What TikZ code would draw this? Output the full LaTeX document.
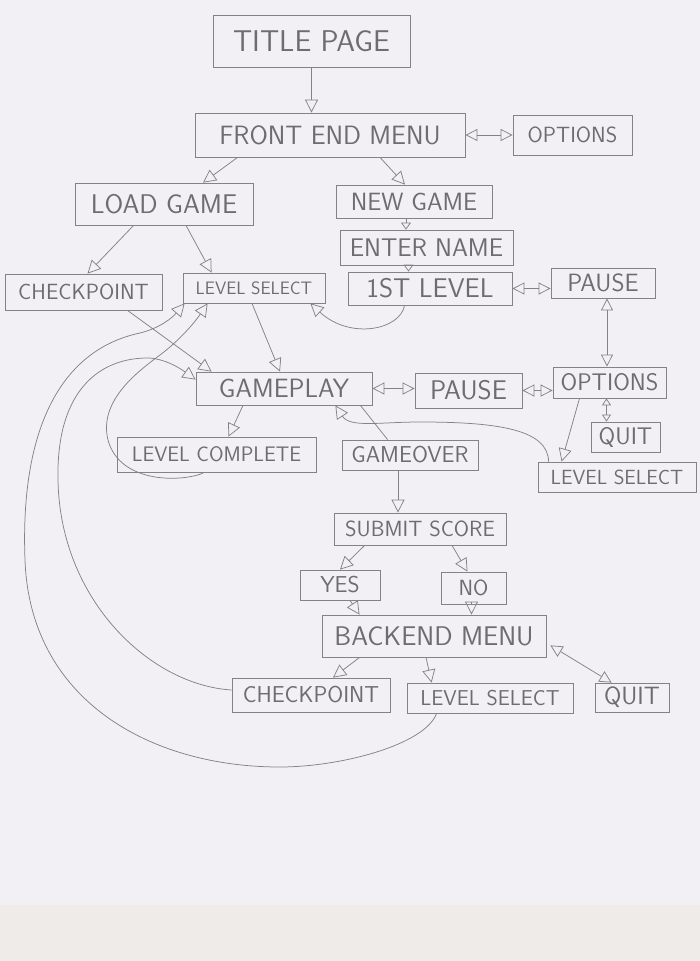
\documentclass[tikz,border=0pt]{standalone}
\usepackage{fontspec}
\usetikzlibrary{arrows.meta,calc}
\definecolor{paper}{RGB}{242,240,244}
\definecolor{scanbot}{RGB}{238,235,233}
\definecolor{linec}{RGB}{130,130,136}
\definecolor{textc}{RGB}{108,108,114}
\newcommand{\fsz}[1]{\sffamily\fontsize{#1}{#1}\selectfont}
\tikzset{
  box/.style={draw=linec, line width=0.8pt, inner sep=0pt, text=textc, fill=none},
  conn/.style={draw=linec, line width=0.75pt},
  tip/.style={-{Triangle[open,length=13pt,width=13pt]}},
  tips/.style={{Triangle[open,length=12pt,width=12pt]}-{Triangle[open,length=12pt,width=12pt]}},
  smalltip/.style={-{Triangle[open,length=7pt,width=10pt]}},
  smalltips/.style={{Triangle[open,length=7pt,width=9pt]}-{Triangle[open,length=7pt,width=9pt]}},
}
\begin{document}
\begin{tikzpicture}[x=1pt,y=-1pt]
\useasboundingbox (0,0) rectangle (700,961);
\fill[paper] (0,0) rectangle (700,905);
\fill[scanbot] (0,905) rectangle (700,961);

% nodes
\node[box,minimum width=197pt,minimum height=52pt,font=\fsz{30}] (title) at (311.5,41) {TITLE PAGE};
\node[box,minimum width=270pt,minimum height=44pt,font=\fsz{26.5}] (fem) at (330,135) {FRONT END MENU};
\node[box,minimum width=119pt,minimum height=40pt,font=\fsz{22}] (opt1) at (572.5,135) {OPTIONS};
\node[box,minimum width=178pt,minimum height=42pt,font=\fsz{27}] (load) at (164,204) {LOAD GAME};
\node[box,minimum width=156pt,minimum height=33pt,font=\fsz{25}] (new) at (414,201.5) {NEW GAME};
\node[box,minimum width=173pt,minimum height=35pt,font=\fsz{25.5}] (enter) at (426.5,247.5) {ENTER NAME};
\node[box,minimum width=164pt,minimum height=33pt,font=\fsz{27}] (first) at (430,288.5) {1ST LEVEL};
\node[box,minimum width=104pt,minimum height=30pt,font=\fsz{25}] (pause1) at (603,283) {PAUSE};
\node[box,minimum width=157pt,minimum height=36pt,font=\fsz{22}] (cp1) at (83.5,292) {CHECKPOINT};
\node[box,minimum width=142pt,minimum height=30pt,font=\fsz{18}] (ls1) at (254,288) {LEVEL SELECT};
\node[box,minimum width=176pt,minimum height=33pt,font=\fsz{26.5}] (game) at (284,388.5) {GAMEPLAY};
\node[box,minimum width=107pt,minimum height=35pt,font=\fsz{27}] (pause2) at (468.5,390.5) {PAUSE};
\node[box,minimum width=113pt,minimum height=31pt,font=\fsz{24}] (opt2) at (609.5,382.5) {OPTIONS};
\node[box,minimum width=69pt,minimum height=30pt,font=\fsz{24}] (quit1) at (625.5,437) {QUIT};
\node[box,minimum width=199pt,minimum height=35pt,font=\fsz{21}] (lc) at (216.5,454.5) {LEVEL COMPLETE};
\node[box,minimum width=136pt,minimum height=30pt,font=\fsz{23}] (over) at (410,455) {GAMEOVER};
\node[box,minimum width=158pt,minimum height=30pt,font=\fsz{20.5}] (ls2) at (617,477) {LEVEL SELECT};
\node[box,minimum width=172pt,minimum height=32pt,font=\fsz{22}] (submit) at (420,529) {SUBMIT SCORE};
\node[box,minimum width=80pt,minimum height=30pt,font=\fsz{23}] (yes) at (340,585) {YES};
\node[box,minimum width=65pt,minimum height=32pt,font=\fsz{22}] (no) at (473.5,588) {NO};
\node[box,minimum width=224pt,minimum height=42pt,font=\fsz{27}] (back) at (434,636) {BACKEND MENU};
\node[box,minimum width=158pt,minimum height=34pt,font=\fsz{23}] (cp2) at (311,695) {CHECKPOINT};
\node[box,minimum width=166pt,minimum height=30pt,font=\fsz{21.5}] (ls3) at (490,698) {LEVEL SELECT};
\node[box,minimum width=74pt,minimum height=29pt,font=\fsz{25}] (quit2) at (632,697.5) {QUIT};

% connectors
\draw[conn,tip] (title.south) -- (title.south |- fem.north);
\draw[conn,tips] (fem.east) -- (opt1.west);
\draw[conn,tip] ($(fem.south west)+(43,0)$) -- ($(load.north)+(39,0)$);
\draw[conn,tip] ($(fem.south)+(50,0)$) -- ($(new.north)+(-9,0)$);
\draw[conn,smalltip] ($(new.south)+(-8,0)$) -- ($(new.south |- enter.north)+(-8,0)$);
\draw[conn,smalltip] ($(enter.south)+(-18,0)$) -- ($(enter.south |- first.north)+(-18,0)$);
\draw[conn,tips] (first.east) -- (first.east -| pause1.west);
\draw[conn,tips] ($(pause1.south)+(4,0)$) -- ($(pause1.south |- opt2.north)+(4,0)$);
\draw[conn,smalltips] ($(opt2.south)+(-3,0)$) -- ($(opt2.south |- quit1.north)+(-3,0)$);
\draw[conn,tip] ($(opt2.south)+(-30,0)$) -- ($(ls2.north west)+(24,0)$);
\draw[conn,tip] ($(ls2.north west)+(11,0)$) .. controls (548,430) and (500,422) .. (420,422)
   .. controls (380,422) and (350,428) .. ($(game.south east)+(-37,0)$);
\draw[conn,tips] (game.east) -- (game.east -| pause2.west);
\draw[conn,tips] (pause2.east) -- (pause2.east -| opt2.west);
\draw[conn,tip] ($(game.south)+(-41,0)$) -- ($(lc.north)+(12,0)$);
\draw[conn] ($(game.south east)+(-12,0)$) -- ($(over.north west)+(46,0)$);
\draw[conn,tip] ($(over.south)+(-12,0)$) -- ($(over.south |- submit.north)+(-12,0)$);
\draw[conn,tip] ($(submit.south west)+(31,0)$) -- (yes.north);
\draw[conn,tip] ($(submit.south)+(32,0)$) -- ($(no.north)+(-6,0)$);
\draw[conn,tip] ($(yes.south)+(10,0)$) -- ($(back.north west)+(38,0)$);
\draw[conn,tip] ($(no.south)+(-2,0)$) -- ($(no.south |- back.north)+(-2,0)$);
\draw[conn,tip] ($(back.south west)+(38,0)$) -- ($(cp2.north)+(22,0)$);
\draw[conn,tip] ($(back.south)+(-8,0)$) -- ($(ls3.north west)+(25,0)$);
\draw[conn,tips] ($(back.south east)+(4,-12)$) -- ($(quit2.north west)+(17,0)$);
\draw[conn,tip] ($(load.south west)+(59,0)$) -- ($(cp1.north)+(4,0)$);
\draw[conn,tip] ($(load.south)+(22,0)$) -- ($(ls1.north west)+(29,0)$);
\draw[conn,tip] ($(first.south west)+(57,0)$) .. controls (400,330) and (350,340) .. ($(ls1.south east)+(-15,0)$);
\draw[conn,tip] ($(ls1.south)+(-2,0)$) -- ($(game.north)+(-4,0)$);
\draw[conn,tip] ($(cp1.south)+(44,0)$) -- ($(game.north west)+(16,0)$);
% loops back
\draw[conn,tip] ($(ls3.south west)+(30,0)$) .. controls (425,745) and (340,767) .. (280,767)
   .. controls (150,767) and (30,700) .. (25,560)
   .. controls (20,430) and (60,350) .. (140,333)
   .. controls (160,328) and (172,318) .. ($(ls1.south west)+(2,0)$);
\draw[conn,tip] ($(cp2.west)+(0,-5)$) .. controls (150,685) and (60,600) .. (58,480)
   .. controls (56,390) and (100,357) .. (150,358)
   .. controls (170,360) and (185,372) .. ($(game.north west)+(0,8)$);
\draw[conn,tip] ($(lc.south)+(-12,0)$) .. controls (185,482) and (120,485) .. (108,440)
   .. controls (98,400) and (140,370) .. (160,355)
   .. controls (180,340) and (195,322) .. ($(ls1.south west)+(25,0)$);
\end{tikzpicture}
\end{document}
